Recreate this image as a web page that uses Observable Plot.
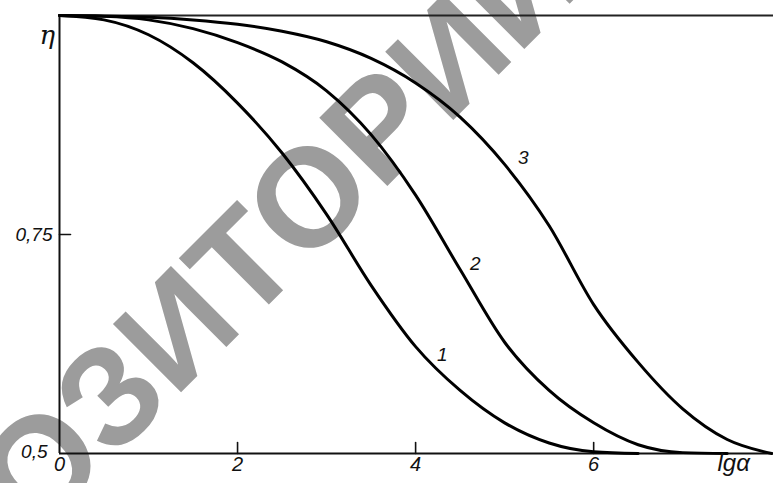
<!DOCTYPE html>
<html>
<head>
<meta charset="utf-8">
<script src="https://cdn.jsdelivr.net/npm/d3@7"></script>
<script src="https://cdn.jsdelivr.net/npm/@observablehq/plot@0.6"></script>
<style>
  html, body { margin: 0; padding: 0; background: #fff; }
  #chart svg { display: block; }
</style>
</head>
<body>
<div id="chart"></div>
<script>
// Curve 1
const curve1X = [0, 0.5, 1.0, 1.5, 2.0, 2.5, 3.0, 3.5, 4.0, 4.5, 5.0, 5.5, 6.0, 6.5];
const curve1Y = [1, 0.995, 0.978, 0.946, 0.900, 0.843, 0.773, 0.692, 0.622, 0.572, 0.535, 0.512, 0.502, 0.500];
// Curve 2
const curve2X = [0, 0.5, 1.0, 1.5, 2.0, 2.5, 3.0, 3.5, 4.0, 4.5, 5.0, 5.5, 6.0, 6.5, 7.0, 7.5];
const curve2Y = [1, 0.999, 0.995, 0.985, 0.969, 0.947, 0.914, 0.864, 0.795, 0.710, 0.627, 0.572, 0.535, 0.510, 0.501, 0.500];
// Curve 3
const curve3X = [0, 1.0, 1.5, 2.0, 2.5, 3.0, 3.5, 4.0, 4.5, 5.0, 5.5, 6.0, 6.5, 7.0, 7.5, 8.0];
const curve3Y = [1, 0.998, 0.995, 0.990, 0.982, 0.970, 0.951, 0.923, 0.884, 0.830, 0.760, 0.670, 0.604, 0.551, 0.516, 0.500];

// Curve labels
const curveNames = ["1", "2", "3"];
const curveLabelX = [4.30, 4.67, 5.21];
const curveLabelY = [0.612, 0.717, 0.838];

// Axis ticks
const xTickMarks = [2, 4, 6];
const xTickLabels = [0, 2, 4, 6];
const yTickMarks = [0.75];
const xDomain = [0, 8.02];
const yDomain = [0.5, 1];

const series = [
  ...curve1X.map((x, i) => ({curve: "1", x, y: curve1Y[i]})),
  ...curve2X.map((x, i) => ({curve: "2", x, y: curve2Y[i]})),
  ...curve3X.map((x, i) => ({curve: "3", x, y: curve3Y[i]}))
];
const labels = curveNames.map((t, i) => ({t, x: curveLabelX[i], y: curveLabelY[i]}));

const tickShape = {draw(ctx, l) { ctx.moveTo(0, 0); ctx.lineTo(0, -l); }};
const font = "'Liberation Sans', Arial, sans-serif";
const fmt = d => String(d).replace(".", ",");

const chart = Plot.plot({
  width: 773,
  height: 483,
  marginLeft: 59,
  marginRight: 0,
  marginTop: 15,
  marginBottom: 30,
  style: {background: "#fff", fontFamily: font},
  x: {domain: xDomain, axis: null},
  y: {domain: yDomain, axis: null},
  marks: [
    Plot.ruleY([yDomain[0]], {stroke: "#111", strokeWidth: 2}),
    Plot.ruleY([yDomain[1]], {stroke: "#222", strokeWidth: 2}),
    Plot.ruleX([0], {stroke: "#111", strokeWidth: 2}),
    Plot.vector(xTickMarks, {x: d => d, y: () => yDomain[0], length: 11, rotate: 0, anchor: "start", shape: tickShape, stroke: "#111", strokeWidth: 1.6}),
    Plot.vector(yTickMarks, {y: d => d, x: () => 0, length: 11, rotate: 90, anchor: "start", shape: tickShape, stroke: "#111", strokeWidth: 1.6}),
    Plot.line(series, {x: "x", y: "y", z: "curve", curve: "monotone-x", stroke: "#000", strokeWidth: 3}),
    Plot.text(labels, {x: "x", y: "y", text: "t", fontSize: 19, fontStyle: "italic", fill: "#111"}),
    Plot.text(xTickLabels, {x: d => d, frameAnchor: "bottom", dy: 17, text: d => String(d), fontSize: 20, fontStyle: "italic", fill: "#111"}),
    Plot.text([0.75], {y: d => d, frameAnchor: "left", dx: -7, textAnchor: "end", text: fmt, fontSize: 19, fontStyle: "italic", fill: "#111"}),
    Plot.text([0.5], {y: d => d, frameAnchor: "left", dx: -12, dy: -2, textAnchor: "end", text: fmt, fontSize: 19, fontStyle: "italic", fill: "#111"}),
    Plot.text(["η"], {frameAnchor: "top-left", dx: -20, dy: 10, fontSize: 26, fontStyle: "italic", fontFamily: "'DejaVu Serif', serif", fill: "#111"}),
    Plot.text(["lgα"], {frameAnchor: "bottom-right", dx: -56, dy: 17, textAnchor: "start", fontSize: 24, fontStyle: "italic", fill: "#111"})
  ]
});

document.getElementById("chart").appendChild(chart);

// Repository watermark (underneath the drawing)
d3.select(chart).insert("text", "g")
  .attr("transform", "translate(175,327) rotate(-45)")
  .attr("text-anchor", "middle")
  .attr("dy", "0.36em")
  .attr("font-family", "'Liberation Sans', Arial, sans-serif")
  .attr("font-weight", "bold")
  .attr("font-size", 140)
  .attr("fill", "#9c9c9c")
  .text("РЕПОЗИТОРИЙ");
</script>
</body>
</html>
